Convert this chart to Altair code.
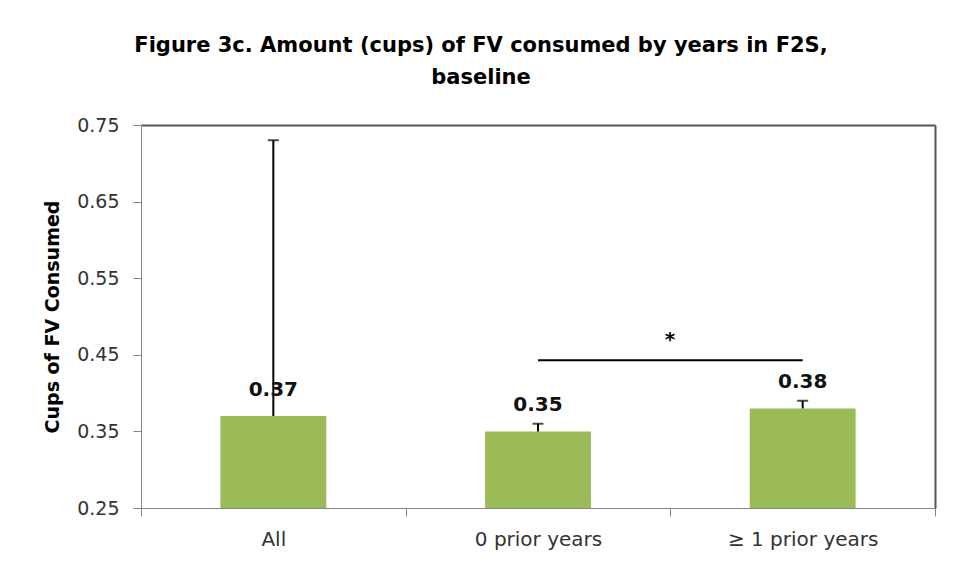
import altair as alt
import pandas as pd

categories = ["All", "0 prior years", "≥ 1 prior years"]
means = [0.37, 0.35, 0.38]
upper = [0.73, 0.36, 0.39]
labels = ["0.37", "0.35", "0.38"]
sig_from = ["0 prior years"]
sig_to = ["≥ 1 prior years"]
sig_y = [0.443]
star_y = [0.462]
star_text = ["*"]
y_ticks = [0.25, 0.35, 0.45, 0.55, 0.65, 0.75]

df = pd.DataFrame({"cat": categories, "mean": means, "upper": upper, "label": labels})
sig = pd.DataFrame({"a": sig_from, "b": sig_to, "y": sig_y, "sy": star_y, "star": star_text})

FONT = "DejaVu Sans"
GREEN = "#9BBB59"
AX = "#868686"
BORDER = "#555555"

xscale = alt.Scale(domain=categories, paddingInner=0.6, paddingOuter=0.3)
xscale_cat = alt.Scale(domain=categories, paddingInner=0, paddingOuter=0)
yscale = alt.Scale(domain=[0.25, 0.75], nice=False, zero=False)

xaxis = alt.Axis(title=None, labelAngle=0, tickBand="extent", tickSize=8,
                 labelPadding=13, labelFontSize=20, labelFont=FONT,
                 labelColor="#333333", domainColor=AX, tickColor=AX, grid=False)
yaxis = alt.Axis(title="Cups of FV Consumed", values=y_ticks, format=".2f",
                 tickSize=8, labelPadding=14, labelFontSize=19, labelFont=FONT,
                 labelColor="#333333", domainColor=AX, tickColor=AX, grid=False,
                 titleFont=FONT, titleFontSize=19, titleFontWeight="bold",
                 titleColor="#000000", titlePadding=14)
top_axis = alt.Axis(orient="top", title=None, labels=False, ticks=False, grid=False,
                    domainColor=BORDER, domainWidth=2)
right_axis = alt.Axis(orient="right", title=None, labels=False, ticks=False, grid=False,
                      domainColor=BORDER, domainWidth=2)

base = alt.Chart(df)
bars = base.mark_bar(color=GREEN, clip=True).encode(
    x=alt.X("cat:N", scale=xscale, axis=None),
    y=alt.Y("mean:Q", scale=yscale, axis=yaxis))
err = base.mark_rule(color="black", strokeWidth=2).encode(
    x=alt.X("cat:N", scale=xscale, axis=top_axis),
    y=alt.Y("mean:Q", scale=yscale, axis=right_axis), y2="upper:Q")
caps = base.mark_tick(color="black", thickness=2, size=11).encode(
    x=alt.X("cat:N", scale=xscale_cat, axis=xaxis),
    y=alt.Y("upper:Q", scale=yscale, axis=None))
text = base.mark_text(font=FONT, fontSize=20, fontWeight="bold", color="#111111",
                      baseline="alphabetic", dy=-20).encode(
    x=alt.X("cat:N", scale=xscale, axis=None), y=alt.Y("mean:Q", scale=yscale, axis=None),
    text="label:N")

sbase = alt.Chart(sig)
sline = sbase.mark_rule(color="black", strokeWidth=2).encode(
    x=alt.X("a:N", scale=xscale, axis=None), x2="b:N",
    y=alt.Y("y:Q", scale=yscale, axis=None))
star = sbase.mark_text(font=FONT, fontSize=20, fontWeight="bold", color="black",
                       baseline="alphabetic", dx=132).encode(
    x=alt.X("a:N", scale=xscale, axis=None), y=alt.Y("sy:Q", scale=yscale, axis=None),
    text="star:N")

chart = alt.layer(bars, err, caps, text, sline, star).resolve_scale(
    x="independent"
).resolve_axis(
    x="independent", y="independent"
).properties(
    width=794, height=383,
    padding={"left": 133, "top": 117, "right": 20, "bottom": 59},
    autosize=alt.AutoSizeParams(type="none"),
    title=alt.TitleParams(
        text=["Figure 3c. Amount (cups) of FV consumed by years in F2S,", "baseline"],
        font=FONT, fontSize=21, fontWeight="bold", color="#000000",
        anchor="middle", dx=-57, lineHeight=32, offset=28),
).configure_view(strokeWidth=0).configure(background="white")

chart.save("out.html", embed_options={"renderer": "svg", "actions": False})
